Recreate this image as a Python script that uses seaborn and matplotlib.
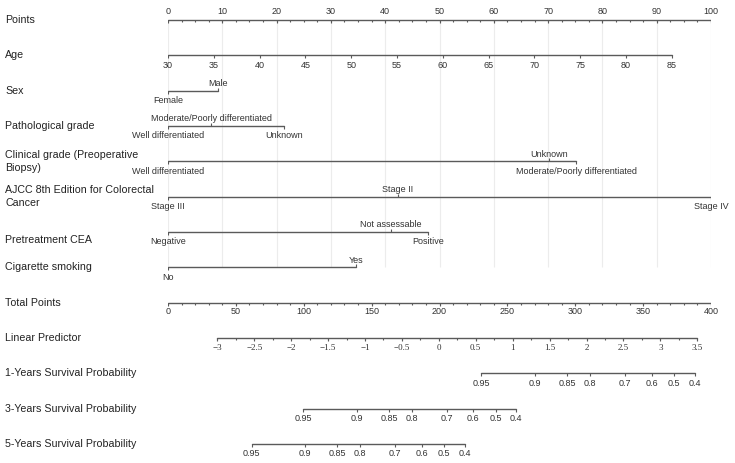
import numpy as np
import pandas as pd
import matplotlib.pyplot as plt
import seaborn as sns
from matplotlib.transforms import blended_transform_factory

# ---------- data ----------
row_names = ['Points', 'Age', 'Sex', 'Pathological grade',
             'Clinical grade (Preoperative\nBiopsy)',
             'AJCC 8th Edition for Colorectal\nCancer',
             'Pretreatment CEA', 'Cigarette smoking', 'Total Points',
             'Linear Predictor', '1-Years Survival Probability',
             '3-Years Survival Probability', '5-Years Survival Probability']

points_ticks = list(range(0, 101, 10))

age_ticks = [30, 35, 40, 45, 50, 55, 60, 65, 70, 75, 80, 85]
age_points_range = [0, 92.8]

sex_levels = ['Female', 'Male']
sex_points = [0, 9.3]

path_levels = ['Well differentiated', 'Moderate/Poorly differentiated', 'Unknown']
path_points = [0, 8.0, 21.4]

clin_levels = ['Well differentiated', 'Unknown', 'Moderate/Poorly differentiated']
clin_points = [0, 70.2, 75.2]

ajcc_levels = ['Stage III', 'Stage II', 'Stage IV']
ajcc_points = [0, 42.3, 100]

cea_levels = ['Negative', 'Not assessable', 'Positive']
cea_points = [0, 41.0, 47.9]

smoke_levels = ['No', 'Yes']
smoke_points = [0, 34.6]

total_ticks = list(range(0, 401, 50))

lp_ticks = [-3, -2.5, -2, -1.5, -1, -0.5, 0, 0.5, 1, 1.5, 2, 2.5, 3, 3.5]
lp_total_range = [36.3, 389.9]

surv_probs = ['0.95', '0.9', '0.85', '0.8', '0.7', '0.6', '0.5', '0.4']
surv1_total = [230.7, 270.3, 294.1, 311.1, 336.9, 356.3, 372.8, 388.2]
surv3_total = [99.7, 139.0, 162.8, 180.0, 205.3, 224.9, 241.4, 256.6]
surv5_total = [61.6, 101.1, 124.6, 141.4, 167.4, 186.8, 203.3, 218.8]

# ---------- layout ----------
sns.set_theme(style='white')
plt.rcParams['font.family'] = ['Liberation Sans', 'DejaVu Sans']

fig = plt.figure(figsize=(7.35, 4.63), dpi=100)
ax = fig.add_axes([168 / 735, 0, 543 / 735, 1])
ROW_PX = 35.33
PX = 1 / ROW_PX

line_col = '#5a5a5a'
txt_col = '#333333'
lab_size = 6.5

segs = []


def axis_line(row, xs):
    segs.append(pd.DataFrame({'row': row, 'x': [min(xs), max(xs)], 'y': [row, row]}))


def ticks(row, xs, length=3, up=False):
    d = -length * PX if up else length * PX
    ax.vlines(xs, row, row + d, color=line_col, lw=0.8)


def labels(row, xs, texts, above=False, off=None, **kw):
    if off is None:
        off = 7 if above else 10
    dy = off * 0.72 if above else -off * 0.72
    for x, t in zip(xs, texts):
        ax.annotate(t, (x, row), xytext=(0, dy), textcoords='offset points',
                    ha='center', va='center', fontsize=lab_size, color=txt_col,
                    annotation_clip=False, **kw)


# vertical grid
ax.vlines(points_ticks, 0, 7, color='#ececec', lw=0.8, zorder=0)

# Points
axis_line(0, [0, 100])
ticks(0, np.arange(0, 100.1, 2.5), 2)
ticks(0, points_ticks, 3)
labels(0, points_ticks, [str(p) for p in points_ticks], above=True, off=8)

# Age
age_x = np.interp(age_ticks, [age_ticks[0], age_ticks[-1]], age_points_range)
axis_line(1, age_x)
ticks(1, age_x, 3)
labels(1, age_x, [str(a) for a in age_ticks])

# categorical rows: (row, positions, levels, which labels go above)
cat_rows = [
    (2, sex_points, sex_levels, [False, True]),
    (3, path_points, path_levels, [False, True, False]),
    (4, clin_points, clin_levels, [False, True, False]),
    (5, ajcc_points, ajcc_levels, [False, True, False]),
    (6, cea_points, cea_levels, [False, True, False]),
    (7, smoke_points, smoke_levels, [False, True]),
]
for row, xs, levels, above in cat_rows:
    axis_line(row, xs)
    for x, t, a in zip(xs, levels, above):
        ticks(row, [x], 3, up=a)
        labels(row, [x], [t], above=a)

# Total Points
tot_x = np.array(total_ticks) / 4
axis_line(8, tot_x)
ticks(8, np.arange(0, 100.1, 2.5), 2)
ticks(8, tot_x, 3)
labels(8, tot_x, [str(t) for t in total_ticks], off=9)

# Linear Predictor
lp_x = np.interp(lp_ticks, [lp_ticks[0], lp_ticks[-1]], lp_total_range) / 4
lp_minor = np.interp(np.arange(-3, 3.51, 0.25), [lp_ticks[0], lp_ticks[-1]], lp_total_range) / 4
axis_line(9, lp_x)
ticks(9, lp_minor, 2)
ticks(9, lp_x, 3)
lp_txt = [('%g' % v).replace('-', '\u2212') for v in lp_ticks]
labels(9, lp_x, lp_txt, family=['Liberation Serif', 'DejaVu Serif'])

# Survival probabilities
for row, tot in [(10, surv1_total), (11, surv3_total), (12, surv5_total)]:
    sx = np.array(tot) / 4
    axis_line(row, sx)
    ticks(row, sx, 3)
    labels(row, sx, surv_probs)

seg = pd.concat(segs, ignore_index=True)
sns.lineplot(data=seg, x='x', y='y', units='row', estimator=None, sort=False,
             color=line_col, lw=1.0, ax=ax, legend=False)
ax.set_xlim(0, 100)
ax.set_ylim((463 - 20) / ROW_PX, -20 / ROW_PX)
ax.axis('off')

# row names
tr = blended_transform_factory(fig.transFigure, ax.transData)
for i, name in enumerate(row_names):
    y = i + (8 * PX if name == 'Pretreatment CEA' else 0)
    fig.text(5 / 735, y, name, transform=tr, ha='left', va='center',
             fontsize=7.7, color='#222222', linespacing=1.45)

fig.savefig('out.png', dpi=100)
